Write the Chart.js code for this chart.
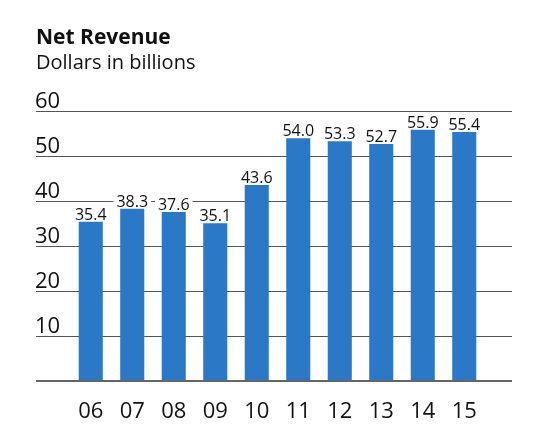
<!DOCTYPE html>
<html>
<head>
<meta charset="utf-8">
<script src="https://cdn.jsdelivr.net/npm/chart.js@4"></script>
<style>
  body { margin: 0; background: #fff; }
  #wrap { width: 536px; height: 437px; }
</style>
</head>
<body>
<div id="wrap"><canvas id="myChart" width="536" height="437"></canvas></div>
<script>
const years = ["06", "07", "08", "09", "10", "11", "12", "13", "14", "15"];
const revenue = [35.4, 38.3, 37.6, 35.1, 43.6, 54.0, 53.3, 52.7, 55.9, 55.4];
const yTicks = [10, 20, 30, 40, 50, 60];

const FONT = "'Open Sans', 'Noto Sans', sans-serif";
const GRID_LEFT = 36;
const GRID_RIGHT = 512;

// grid lines + y labels, drawn across the full width
const gridPlugin = {
  id: "grid",
  beforeDatasetsDraw(chart) {
    const { ctx, scales } = chart;
    const y = scales.y;
    ctx.save();
    ctx.strokeStyle = "#555";
    ctx.lineWidth = 1;
    ctx.fillStyle = "#111";
    ctx.font = "22px " + FONT;
    ctx.textAlign = "left";
    ctx.textBaseline = "alphabetic";
    yTicks.forEach((v) => {
      const py = Math.round(y.getPixelForValue(v)) + 0.5;
      ctx.beginPath();
      ctx.moveTo(GRID_LEFT, py);
      ctx.lineTo(GRID_RIGHT, py);
      ctx.stroke();
      ctx.fillText(String(v), GRID_LEFT - 1, py - 4);
    });
    ctx.restore();
  },
  afterDatasetsDraw(chart) {
    const { ctx, scales } = chart;
    const meta = chart.getDatasetMeta(0);
    ctx.save();
    // value labels with white box
    ctx.font = "16px " + FONT;
    ctx.textAlign = "center";
    ctx.textBaseline = "alphabetic";
    meta.data.forEach((bar, i) => {
      const txt = revenue[i].toFixed(1);
      const w = ctx.measureText(txt).width;
      ctx.fillStyle = "#fff";
      ctx.fillRect(bar.x - w / 2 - 3, bar.y - 17, w + 6, 15);
      ctx.fillStyle = "#111";
      ctx.fillText(txt, bar.x, bar.y - 2);
    });
    // baseline
    const by = scales.y.getPixelForValue(0);
    ctx.strokeStyle = "#666";
    ctx.lineWidth = 2;
    ctx.beginPath();
    ctx.moveTo(GRID_LEFT, by);
    ctx.lineTo(GRID_RIGHT, by);
    ctx.stroke();
    ctx.restore();
  },
};

const ctx = document.getElementById("myChart").getContext("2d");

new Chart(ctx, {
  type: "bar",
  data: {
    labels: years,
    datasets: [
      {
        data: revenue,
        backgroundColor: "#2b78c6",
        borderWidth: 0,
        barPercentage: 0.58,
        categoryPercentage: 1,
      },
    ],
  },
  options: {
    responsive: false,
    animation: false,
    layout: { padding: { top: 25, left: 36, right: 51, bottom: 12 } },
    scales: {
      y: {
        min: 0,
        max: 60,
        ticks: { display: false },
        grid: { display: false },
        border: { display: false },
        afterFit: (scale) => { scale.width = 34; },
      },
      x: {
        grid: { display: false, drawTicks: false },
        border: { display: false },
        ticks: { color: "#111", font: { family: FONT, size: 22 }, padding: 18 },
        afterFit: (scale) => { scale.height = 44; },
      },
    },
    plugins: {
      legend: { display: false },
      tooltip: { enabled: false },
      title: {
        display: true,
        text: "Net Revenue",
        align: "start",
        color: "#111",
        font: { family: FONT, size: 21, weight: "bold", lineHeight: 1.2 },
        padding: { top: 0, bottom: 1 },
      },
      subtitle: {
        display: true,
        text: "Dollars in billions",
        align: "start",
        color: "#111",
        font: { family: FONT, size: 20, lineHeight: 1.2 },
        padding: { top: 0, bottom: 36 },
      },
    },
  },
  plugins: [gridPlugin],
});
</script>
</body>
</html>
